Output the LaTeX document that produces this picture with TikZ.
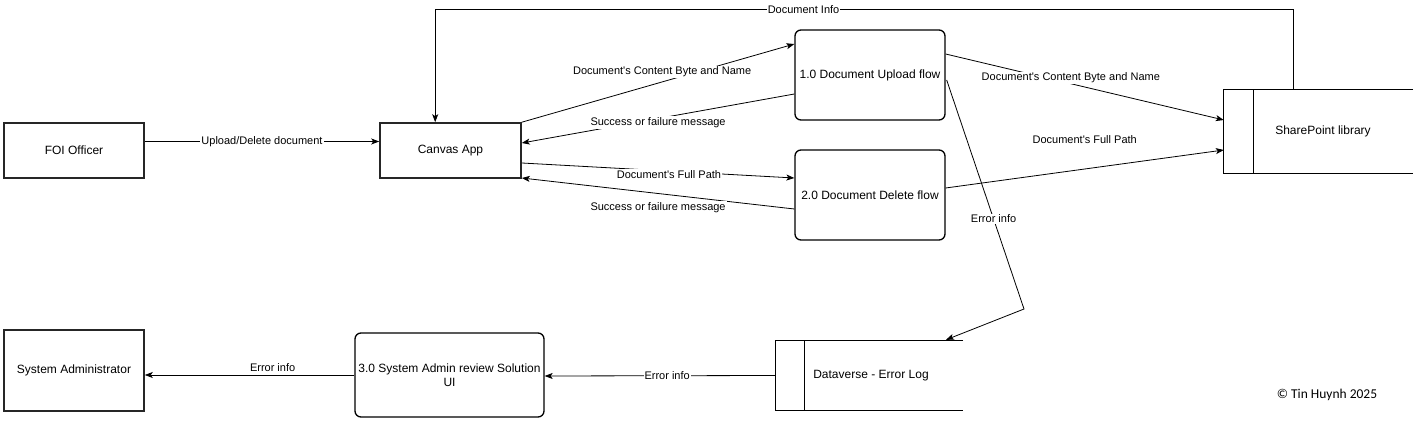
\documentclass[tikz,border=0pt]{standalone}
\usepackage{fontspec}
\setmainfont{Liberation Sans}[Ligatures=TeXOff]
\newfontfamily\carl{Carlito}
\usetikzlibrary{arrows.meta,calc}
\begin{document}
\begin{tikzpicture}[x=1pt,y=-1pt,
  entity/.style={draw,line width=1.6pt,draw=black!85,minimum width=#1,inner sep=0pt,font=\fontsize{12}{14}\selectfont},
  proc/.style={draw,line width=1.3pt,rounded corners=6pt,inner sep=0pt,font=\fontsize{12}{14}\selectfont,align=center},
  storebox/.style={inner sep=0pt,font=\fontsize{12}{14}\selectfont},
  flow/.style={line width=0.8pt,-{Stealth[length=8pt,width=6pt,inset=2pt]}},
  lbl/.style={fill=white,inner sep=1pt,font=\fontsize{11}{13}\selectfont}]
\useasboundingbox (0,0) rectangle (1417,422);

% nodes
\node[entity=140pt,minimum height=55pt] (foi) at (74,150.5) {FOI Officer};
\node[entity=141pt,minimum height=55pt] (canvas) at (450.5,150.5) {Canvas App};
\node[proc,minimum width=150pt,minimum height=90pt] (upload) at (870,75) {1.0 Document Upload flow};
\node[proc,minimum width=150pt,minimum height=90pt] (delete) at (870,195) {2.0 Document Delete flow};
\node[storebox,minimum width=189pt,minimum height=83pt] (sp) at (1318.5,131.5) {};
\node[storebox] (sptext) at (1323,131.5) {SharePoint library};
\node[storebox,minimum width=187pt,minimum height=69pt] (dv) at (869.5,375.5) {};
\node[storebox] (dvtext) at (871,376) {Dataverse - Error Log};
\node[entity=140pt,minimum height=81pt] (admin) at (74,370.5) {System Administrator};
\node[proc,minimum width=189pt,minimum height=84pt] (review) at (449.5,375) {3.0 System Admin review Solution\\UI};
\node[font=\carl\fontsize{13.5}{16}\selectfont,inner sep=0pt] (copy) at (1327,395) {© Tin Huynh 2025};

% data stores (open on the right)
\draw[line width=0.9pt] (sp.north east) -- (sp.north west) -- (sp.south west) -- (sp.south east);
\draw[line width=0.9pt] ($(sp.north west)+(30,0)$) -- ($(sp.south west)+(30,0)$);
\draw[line width=0.9pt] (dv.north east) -- (dv.north west) -- (dv.south west) -- (dv.south east);
\draw[line width=0.9pt] ($(dv.north west)+(29,0)$) -- ($(dv.south west)+(29,0)$);

% flows
\draw[flow] ($(foi.east)+(0,-9)$) -- node[lbl] {Upload/Delete document} ($(canvas.west)+(0,-9)$);
\draw[flow] (canvas.north east) -- node[lbl,pos=.515,yshift=10pt] {Document's Content Byte and Name} ($(upload.west)+(0,-31)$);
\draw[flow] ($(upload.west)+(0,19)$) -- node[lbl,pos=.5,yshift=-4pt] {Success or failure message} ($(canvas.east)+(0,-7.5)$);
\draw[flow] ($(canvas.east)+(0,12.5)$) -- node[lbl,pos=.54,yshift=-3pt] {Document's Full Path} ($(delete.west)+(0,-17)$);
\draw[flow] ($(delete.west)+(0,14)$) -- node[lbl,pos=.5,yshift=-14pt] {Success or failure message} ($(canvas.east)+(0,27.5)$);
\draw[flow] ($(upload.east)+(0,-21)$) -- node[lbl,pos=.45,yshift=6pt] {Document's Content Byte and Name} ($(sp.west)+(0,-11.5)$);
\draw[flow] ($(delete.east)+(0,-7)$) -- node[lbl,pos=.5,yshift=29pt] {Document's Full Path} ($(sp.west)+(0,18.5)$);
\coordinate (topright) at ($(sp.north west)+(70,-80)$);
\coordinate (ctop) at ($(canvas.north west)+(56,0)$);
\draw[flow] ($(sp.north west)+(70,0)$) -- (topright) -- node[lbl,pos=.571] {Document Info} (topright -| ctop) -- (ctop);
\coordinate (bend) at (1024,309);
\draw[flow] ($(upload.east)+(1,5)$) -- node[lbl,pos=.607] {Error info} (bend) -- ($(dv.north)+(76.5,-1)$);
\draw[flow] (dv.west) -- node[lbl,pos=.47] {Error info} ($(review.east)+(0,1)$);
\draw[flow] (review.west) -- node[lbl,pos=.39,yshift=7pt] {Error info} (admin.east |- review.west);
\end{tikzpicture}
\end{document}
